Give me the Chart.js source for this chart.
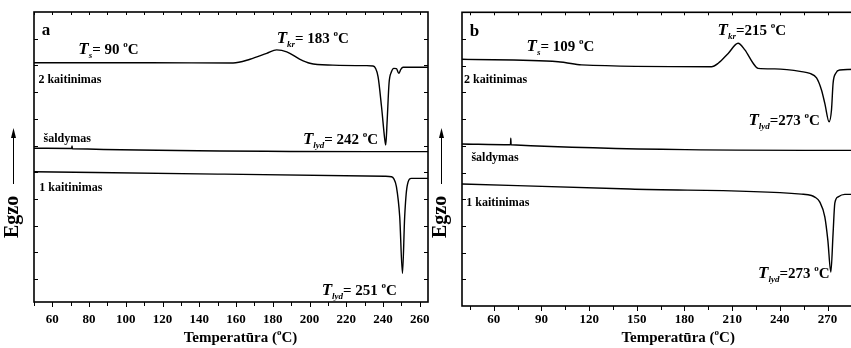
<!DOCTYPE html>
<html><head><meta charset="utf-8">
<script src="https://cdn.jsdelivr.net/npm/chart.js@4/dist/chart.umd.min.js"></script>
<style>
html,body{margin:0;padding:0;background:#fff;overflow:hidden;width:851px;height:348px;}
#ca{position:absolute;left:0;top:0;}
#cb{position:absolute;left:430px;top:0;}
</style></head><body>
<canvas id="ca" width="432" height="348"></canvas>
<canvas id="cb" width="440" height="348"></canvas>
<script>
// ---------- Panel a data (temperature °C, heat flow arbitrary units) ----------
const aHeat2T = [50,113.3,158.4,167.6,176.7,182.1,187.6,194.8,200.2,212.7,231,234.6,237.3,239.2,241,241.5,242.2,243.3,244.6,245.9,247.3,248.6,249.7,250.9,264.5];
const aHeat2V = [8.10,8.10,8.09,8.23,8.45,8.58,8.51,8.23,8.08,8.01,7.99,7.98,7.58,6.45,5.21,5.02,5.84,7.34,7.76,7.89,7.88,7.70,7.85,7.93,7.93];
const aCoolT  = [50,70.5,70.7,70.9,264.5];
const aCoolV  = [4.90,4.89,4.98,4.88,4.77];
const aHeat1T = [50,150,241,244.6,245.9,247.3,249.1,250.6,251.8,253.1,255.5,264.5];
const aHeat1V = [4.02,3.93,3.85,3.83,3.75,3.46,2.33,0.21,2.33,3.46,3.77,3.77];
const aTicks  = [60,80,100,120,140,160,180,200,220,240,260];

// ---------- Panel b data ----------
const bHeat2T = [40,100.5,104.7,115.2,197,201.2,207.5,213.7,218,223.2,226.3,236.8,253.6,258.9,263.1,266.2,268.3,271,272.5,273.5,275.2,277.7,291];
const bHeat2V = [8.24,8.15,8.12,8.03,7.96,8.09,8.46,8.84,8.59,8.09,7.90,7.88,7.78,7.71,7.54,7.09,6.59,5.90,6.34,7.34,7.72,7.84,7.87];
const bCoolT  = [40,70.5,70.7,70.9,291];
const bCoolV  = [5.07,5.04,5.28,5.04,4.83];
const bHeat1T = [40,145.6,253.6,259.9,262,265.1,268.3,270.2,272.1,273.5,274.6,276.7,280.9,291];
const bHeat1V = [3.57,3.38,3.19,3.14,3.08,2.90,2.34,1.47,0.27,1.72,2.85,3.09,3.18,3.18];
const bTicks  = [60,90,120,150,180,210,240,270];

const seriesNames = ['2 kaitinimas','šaldymas','1 kaitinimas'];

const SERIF = '"Liberation Serif","Times New Roman",serif';
const F = (s, sz) => `${s} ${sz}px ${SERIF}`;

function pts(T, V){ return T.map((t,i)=>({x:t,y:V[i]})); }

function rich(ctx, x, y, runs, align){
  let w = 0;
  runs.forEach(r=>{ ctx.font = r.f; r.w = ctx.measureText(r.t).width; w += r.w; });
  let cx = align==='right' ? x-w : align==='center' ? x-w/2 : x;
  runs.forEach(r=>{ ctx.font = r.f; ctx.fillText(r.t, cx, y+(r.dy||0)); cx += r.w; });
}
function tLabel(sub, rest){
  return [
    {t:'T', f:F('italic bold',17)},
    {t:sub, f:F('italic bold',9), dy:4},
    {t:rest, f:F('bold',15)},
    {t:'o', f:F('bold',9), dy:-7},
    {t:'C', f:F('bold',15)}
  ];
}

function decoPlugin(d){
  return {
    id:'deco'+d.letter,
    afterDraw(chart){
      const {ctx, chartArea:ca, scales:{x,y}} = chart;
      ctx.save();
      ctx.strokeStyle = '#000'; ctx.fillStyle = '#000';
      ctx.lineWidth = 1.6;
      ctx.strokeRect(ca.left, ca.top, ca.right-ca.left, ca.bottom-ca.top);
      ctx.lineWidth = 1;
      x.ticks.forEach(t=>{
        const px = Math.round(x.getPixelForValue(t.value))+0.5;
        const major = d.tickLabels.includes(t.value);
        ctx.beginPath();
        ctx.moveTo(px, ca.bottom); ctx.lineTo(px, ca.bottom+(major?5:4));
        ctx.moveTo(px, ca.top); ctx.lineTo(px, ca.top+3);
        ctx.stroke();
      });
      y.ticks.forEach(t=>{
        const py = Math.round(y.getPixelForValue(t.value))+0.5;
        if (py < ca.top+2 || py > ca.bottom-2) return;
        ctx.beginPath();
        ctx.moveTo(ca.left, py); ctx.lineTo(ca.left+4, py);
        ctx.moveTo(ca.right, py); ctx.lineTo(ca.right-4, py);
        ctx.stroke();
      });
      ctx.textBaseline = 'alphabetic';
      ctx.font = F('bold',17);
      ctx.fillText(d.letter, x.getPixelForValue(d.letterPos[0]), y.getPixelForValue(d.letterPos[1]));
      ctx.font = F('bold',12);
      seriesNames.forEach((n,i)=>{
        ctx.fillText(n, x.getPixelForValue(d.namePos[i][0]), y.getPixelForValue(d.namePos[i][1]));
      });
      d.anns.forEach(a=>{
        rich(ctx, x.getPixelForValue(a.at[0]), y.getPixelForValue(a.at[1]), tLabel(a.sub, a.rest), a.align||'left');
      });
      rich(ctx, x.getPixelForValue(d.titleT), 341.5, [
        {t:'Temperatūra (', f:F('bold',15)},
        {t:'o', f:F('bold',9), dy:-7},
        {t:'C)', f:F('bold',15)}
      ], 'center');
      ctx.save();
      ctx.translate(ca.left-16.5, 238);
      ctx.rotate(-Math.PI/2);
      ctx.font = F('bold',20);
      ctx.fillText('Egzo', 0, 0);
      ctx.restore();
      const ax = ca.left-20.5;
      ctx.lineWidth = 1;
      ctx.beginPath(); ctx.moveTo(ax, 184); ctx.lineTo(ax, 136); ctx.stroke();
      ctx.beginPath(); ctx.moveTo(ax-2.5, 138); ctx.lineTo(ax+2.5, 138); ctx.lineTo(ax, 128); ctx.closePath(); ctx.fill();
      ctx.restore();
    }
  };
}

function makeChart(id, d){
  const ds = d.series.map(s=>({
    data: pts(s[0], s[1]),
    borderColor:'#000', borderWidth:1.4, pointRadius:0,
    cubicInterpolationMode:'monotone', fill:false
  }));
  return new Chart(document.getElementById(id), {
    type:'line',
    data:{datasets:ds},
    options:{
      responsive:false, animation:false, devicePixelRatio:1,
      layout:{padding:d.padding},
      plugins:{legend:{display:false}, tooltip:{enabled:false}},
      scales:{
        x:{type:'linear', min:d.xmin, max:d.xmax,
           grid:{display:false, drawTicks:false}, border:{display:false},
           ticks:{stepSize:d.step, includeBounds:false, autoSkip:false, maxRotation:0,
                  padding:d.labelPad, color:'#000', font:{family:SERIF, weight:'bold', size:13},
                  callback:(v)=> d.tickLabels.includes(v) ? String(v) : ''},
           afterFit:(s)=>{ s.height = d.xh; s.paddingLeft = 0; s.paddingRight = 0; }},
        y:{type:'linear', min:d.ymin, max:d.ymax,
           grid:{display:false, drawTicks:false}, border:{display:false},
           ticks:{display:false, stepSize:1, includeBounds:false},
           afterFit:(s)=>{ s.width = d.yw; s.paddingTop = 0; s.paddingBottom = 0; }}
      }
    },
    plugins:[decoPlugin(d)]
  });
}

makeChart('ca', {
  letter:'a', letterPos:[54.2, 9.14],
  series:[[aHeat2T,aHeat2V],[aCoolT,aCoolV],[aHeat1T,aHeat1V]],
  xmin:50, xmax:264.5, step:10, tickLabels:aTicks, ymin:-0.86, ymax:10,
  padding:{top:12, right:4, left:0, bottom:0}, xh:46, yw:34, labelPad:10,
  namePos:[[52.4,7.33],[55.2,5.14],[52.9,3.31]],
  anns:[
    {sub:'s', rest:'= 90 ', at:[74.1,8.42]},
    {sub:'kr', rest:'= 183 ', at:[182.1,8.83]},
    {sub:'lyd', rest:'= 242 ', at:[196.4,5.05]},
    {sub:'lyd', rest:'= 251 ', at:[206.6,-0.60]}
  ],
  titleT:162.4
});

makeChart('cb', {
  letter:'b', letterPos:[44.9, 9.11],
  series:[[bHeat2T,bHeat2V],[bCoolT,bCoolV],[bHeat1T,bHeat1V]],
  xmin:40, xmax:291.7, step:15, tickLabels:bTicks, ymin:-1, ymax:10,
  padding:{top:12.3, right:8, left:0, bottom:0}, xh:42, yw:32, labelPad:6,
  namePos:[[41.3,7.36],[45.9,4.44],[42.7,2.75]],
  anns:[
    {sub:'s', rest:'= 109 ', at:[80.6,8.55]},
    {sub:'kr', rest:'=215 ', at:[200.8,9.15]},
    {sub:'lyd', rest:'=273 ', at:[265.2,5.78], align:'right'},
    {sub:'lyd', rest:'=273 ', at:[226.3,0.04]}
  ],
  titleT:176
});
</script>
</body></html>
